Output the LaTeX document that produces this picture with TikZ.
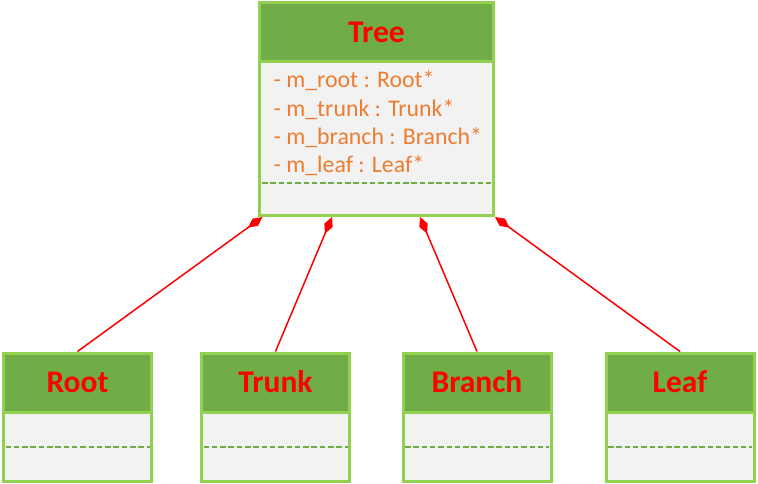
\documentclass[tikz,border=0pt]{standalone}
\usepackage{fontspec}
\setmainfont{Carlito}
\usetikzlibrary{arrows.meta,calc}
\definecolor{hdr}{HTML}{70AD47}
\definecolor{brd}{HTML}{92D050}
\definecolor{bodyc}{HTML}{F2F2F2}
\definecolor{attrc}{HTML}{ED7D31}
\begin{document}
\begin{tikzpicture}[x=1pt,y=-1pt,
  cbox/.style={rectangle, inner sep=0pt, draw=brd, fill=bodyc, line width=3pt},
  chead/.style={rectangle, inner sep=0pt, draw=brd, fill=hdr, line width=3pt,
    text=red, font=\bfseries\fontsize{31.5}{31.5}\selectfont, text height=20.5pt, text depth=0pt},
  attr/.style={anchor=base west, inner sep=0pt, text=attrc, font=\fontsize{23.8}{23.8}\selectfont},
  sep/.style={draw=hdr, line width=2.9pt, dash pattern=on 5.5pt off 2.8pt},
  comp/.style={draw=red, line width=1.5pt, {Diamond[length=18pt,width=9pt]}-}
]
\useasboundingbox (0,0) rectangle (758,484);
% Tree
\node[cbox, minimum width=234pt, minimum height=213pt] (tree) at (376.5,109) {};
\node[chead, minimum width=234pt, minimum height=59.5pt, anchor=north] (treet) at (tree.north) {Tree};
\node[attr] (a1) at (273.5,88) {- m\_root : Root*};
\node[attr] (a2) at (273.5,116.5) {- m\_trunk : Trunk*};
\node[attr] (a3) at (273.5,145) {- m\_branch : Branch*};
\node[attr] (a4) at (273.5,173) {- m\_leaf : Leaf*};
\draw[sep] (262,183) -- (491,183);
% small classes
\foreach \n/\t/\x in {root/Root/77.5, trunk/Trunk/275.5, branch/Branch/477, leaf/Leaf/680}{
  \node[cbox, minimum width=148pt, minimum height=128pt] (\n) at (\x,417) {};
  \node[chead, minimum width=148pt, minimum height=59pt, anchor=north] (\n t) at (\n.north) {\t};
  \draw[sep] ($(\n.west)+(3.5,30)$) -- ($(\n.east)+(-3.5,30)$);
}
% connectors
\coordinate (c1) at (262.5,217);
\coordinate (c2) at (332,217);
\coordinate (c3) at (420,217);
\coordinate (c4) at (495,217);
\draw[comp] (c1) -- (root.north);
\draw[comp] (c2) -- (trunk.north);
\draw[comp] (c3) -- (branch.north);
\draw[comp] (c4) -- (leaf.north);
\end{tikzpicture}
\end{document}
